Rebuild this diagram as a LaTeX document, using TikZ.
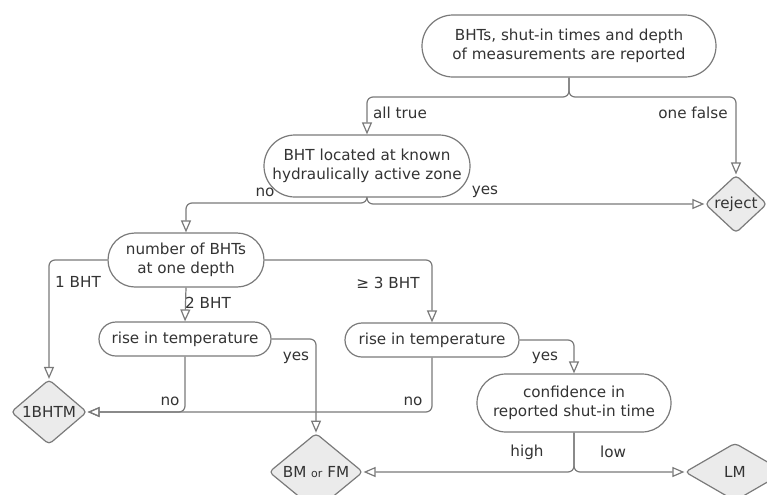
\documentclass[tikz,border=0pt]{standalone}
\usepackage{fontspec}
\setmainfont{DejaVu Sans}
\usepackage{tikz}
\usetikzlibrary{shapes.misc,shapes.geometric,arrows.meta}

\definecolor{linegray}{HTML}{7A7A7A}
\definecolor{txtgray}{HTML}{333333}
\definecolor{boxgray}{HTML}{EBEBEB}

\begin{document}
\begin{tikzpicture}[x=0.5pt,y=-0.5pt,
		every node/.style={font=\fontsize{7.6}{9.5}\selectfont,text=txtgray},
		test/.style={rounded rectangle,draw=linegray,line width=0.6pt,align=center,inner sep=1pt},
		result/.style={diamond,draw=linegray,line width=0.6pt,fill=boxgray,inner sep=0pt,
			rounded corners=2pt},
		flow/.style={draw=linegray,line width=0.6pt,rounded corners=3pt,
			-{Triangle[open,length=6pt,width=5pt]}},
		lbl/.style={inner sep=1pt}]
	\useasboundingbox (0,0) rectangle (767,494);
	\clip (0,0) rectangle (767,494);
	% questions
	\node[test,minimum width=149pt,minimum height=31pt] (rep) at (569,46)
		{BHTs, shut-in times and depth\\of measurements are reported};
	\node[test,minimum width=105pt,minimum height=31pt] (loc) at (367,166)
		{BHT located at known\\hydraulically active zone};
	\node[test,minimum width=80pt,minimum height=27pt] (num) at (186,260)
		{number of BHTs\\at one depth};
	\node[test,minimum width=88pt,minimum height=17pt] (rise1) at (185,339)
		{rise in temperature};
	\node[test,minimum width=89pt,minimum height=17pt] (rise2) at (432,340)
		{rise in temperature};
	\node[test,minimum width=99pt,minimum height=29pt] (conf) at (574,403)
		{confidence in\\reported shut-in time};
	% results
	\node[result,minimum width=31pt,minimum height=28pt] (rej) at (736,204) {reject};
	\node[result,minimum width=38pt,minimum height=29pt] (one) at (49,412) {1BHTM};
	\node[result,minimum width=47pt,minimum height=29pt] (bmfm) at (316,472)
		{BM {\fontsize{5.5}{6}\selectfont or} FM};
	\node[result,minimum width=50pt,minimum height=29pt] (lm) at (735,472) {LM};
	% split levels
	\coordinate (s1) at (569,97);
	\coordinate (s2) at (367,203);
	% connectors
	\draw[flow] (rep.south) |- (loc.north |- s1) -- (loc.north);
	\draw[flow] (rep.south) |- (rej.north |- s1) -- (rej.north);
	\draw[flow] (loc.south) |- (num.north |- s2) -- (num.north);
	\draw[flow] (loc.south) |- (rej.west);
	\draw[flow] (num.west) -| (one.north);
	\draw[flow] (num.south) -- (rise1.north);
	\draw[flow] (num.east) -| (rise2.north);
	\draw[flow] (rise1.east) -| (bmfm.north);
	\draw[flow] (rise1.south) |- (one.east);
	\draw[flow] (rise2.south) |- (one.east);
	\draw[flow] (rise2.east) -| (conf.north);
	\draw[flow] (conf.south) |- (bmfm.east);
	\draw[flow] (conf.south) |- (lm.west);
	% labels
	\node[lbl] (tAll) at (400,113) {all true};
	\node[lbl] (tOne) at (693,113) {one false};
	\node[lbl] (tNo1) at (265,192) {no};
	\node[lbl] (tYes1) at (485,192) {yes};
	\node[lbl] (t1) at (78,282) {1 BHT};
	\node[lbl] (t2) at (208,303) {2 BHT};
	\node[lbl] (t3) at (388,283) {≥ 3 BHT};
	\node[lbl] (tYes2) at (296,358) {yes};
	\node[lbl] (tNo2) at (170,401) {no};
	\node[lbl] (tYes3) at (545,358) {yes};
	\node[lbl] (tNo3) at (413,401) {no};
	\node[lbl] (tHigh) at (527,452) {high};
	\node[lbl] (tLow) at (613,452) {low};
\end{tikzpicture}
\end{document}
